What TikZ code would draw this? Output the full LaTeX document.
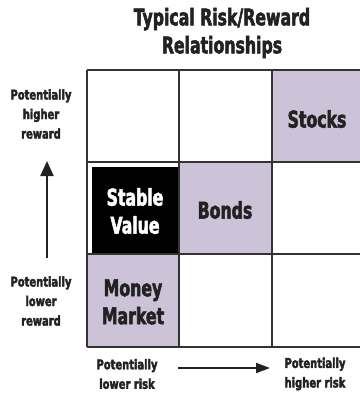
\documentclass[tikz,border=0pt]{standalone}
\usepackage{fontspec}
\newfontfamily\cf[FakeStretch=0.76,FakeBold=2.2]{DejaVu Sans Condensed Bold}
\newfontfamily\cfs[FakeStretch=0.82,FakeBold=2.6]{DejaVu Sans Condensed Bold}
\usetikzlibrary{arrows.meta}
\definecolor{lav}{HTML}{CDC3D9}
\definecolor{ink}{HTML}{222222}
\definecolor{gridc}{HTML}{333333}
\begin{document}
\begin{tikzpicture}[x=1pt,y=-1pt,
  big/.style={font=\cf\fontsize{23}{28}\selectfont, text=ink, align=center, inner sep=0pt},
  small/.style={font=\cfs\fontsize{13.5}{19.5}\selectfont, text=ink, align=center, inner sep=0pt},
  gridline/.style={draw=gridc, line width=1.4pt},
  axisarrow/.style={draw=ink, line width=2.2pt, -{Triangle[length=15pt,width=13pt]}}]
\useasboundingbox (0,0) rectangle (359,393);
\fill[white] (0,0) rectangle (359,393);
% fills
\fill[lav] (272,70) rectangle (362,162);
\fill[lav] (179,162) rectangle (272,254);
\fill[lav] (87,254) rectangle (179,347);
\fill[black] (92,167) rectangle (179,253);
% grid
\draw[gridline] (87,70) -- (362,70);
\draw[gridline] (87,162) -- (362,162);
\draw[gridline] (87,254) -- (362,254);
\draw[gridline] (87,347) -- (362,347);
\draw[gridline] (87,70) -- (87,347);
\draw[gridline] (179,70) -- (179,347);
\draw[gridline] (272,70) -- (272,347);
% title
\node[big] (title) at (222,33) {Typical Risk/Reward\\Relationships};
% cell labels
\node[big] (stocks) at (317,119) {Stocks};
\node[big] (bonds) at (225,210) {Bonds};
\node[big, text=white] (stable) at (135,211) {Stable\\Value};
\node[big] (money) at (133,302) {Money\\Market};
% axis labels
\node[small] (hireward) at (41,114) {Potentially\\higher\\reward};
\node[small] (loreward) at (41,301) {Potentially\\lower\\reward};
\node[small] (lorisk) at (127,374) {Potentially\\lower risk};
\node[small] (hirisk) at (315,374) {Potentially\\higher risk};
% arrows
\coordinate (vstart) at (47,258);
\coordinate (vend) at (47,161);
\coordinate (hstart) at (178,368);
\coordinate (hend) at (270,368);
\draw[axisarrow] (vstart) -- (vend);
\draw[axisarrow, line width=1.8pt, -{Triangle[length=14pt,width=10pt]}] (hstart) -- (hend);
\end{tikzpicture}
\end{document}
